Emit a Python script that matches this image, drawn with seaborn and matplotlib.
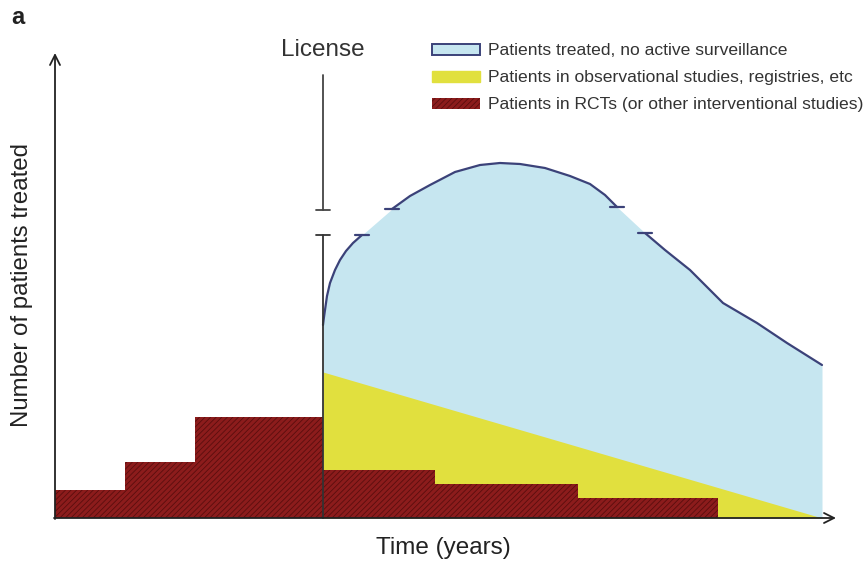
import numpy as np
import pandas as pd
import seaborn as sns
import matplotlib.pyplot as plt
from matplotlib.patches import Patch

sns.set_style("white")
plt.rcParams['font.family'] = ['Liberation Sans', 'DejaVu Sans']
plt.rcParams['hatch.color'] = "#5a0e0e"
plt.rcParams['hatch.linewidth'] = 0.6

# time axis runs 0..780 (arbitrary units), license at t=268
license_t = 268

# RCT step bars (edges and heights)
rct_edges = [0, 70, 140, 268, 380, 523, 663]
rct_heights = [28, 56, 101, 48, 34, 20]

# observational studies: straight decline from license to end
obs_t = [268, 767]
obs_h = [146, 0]

# total treated curve
curve_t = [268, 269, 270, 272, 275, 280, 285, 291, 298, 307, 322, 337, 355, 375, 400,
           425, 445, 465, 490, 515, 535, 550, 562, 590, 610, 635, 668, 702, 732, 767]
curve_h = [193, 201, 208, 222, 235, 248, 258, 267, 275, 283, 296, 309, 322, 333, 346,
           353, 355, 354, 350, 342, 334, 323, 311, 285, 268, 248, 215, 195, 175, 153]

# segments of the curve that are drawn (gaps = axis breaks)
seg_limits = [(268, 307), (337, 562), (590, 767)]

df = pd.DataFrame({"t": curve_t, "h": curve_h})

fig = plt.figure(figsize=(8.67, 5.61), dpi=100)
ax = fig.add_axes([0, 0, 1, 1])
ax.set_xlim(-55, 812)
ax.set_ylim(-43, 518)
ax.axis("off")

blue_fill = "#c6e6f0"
yellow = "#e1e03e"
red = "#8c1c1c"
navy = "#3b4279"

# blue area (total treated)
ax.fill_between(curve_t, 0, curve_h, color=blue_fill, lw=0, zorder=1)

# yellow area
ax.fill_between(obs_t, 0, obs_h, color=yellow, lw=0, zorder=2)

# RCT steps
for i, h in enumerate(rct_heights):
    ax.bar(rct_edges[i], h, width=rct_edges[i + 1] - rct_edges[i], align="edge",
           color=red, edgecolor="#5a0e0e", hatch="//////", lw=0, zorder=3)

# curve line segments
for a, b in seg_limits:
    sub = df[(df.t >= a) & (df.t <= b)]
    sns.lineplot(data=sub, x="t", y="h", ax=ax, color=navy, lw=1.6, zorder=5,
                 sort=False, estimator=None)
ax.set_xlabel(""); ax.set_ylabel("")

# break caps on the curve
for a, b in seg_limits:
    for t in (a, b):
        if t in (268, 767):
            continue
        h = df.h[df.t == t].values[0]
        ax.plot([t - 7, t + 7], [h, h], color=navy, lw=1.6, zorder=6)

# license line with break
ax.plot([license_t, license_t], [0, 283], color="#333333", lw=1.3, zorder=6)
ax.plot([license_t - 7, license_t + 7], [283, 283], color="#333333", lw=1.3, zorder=6)
ax.plot([license_t, license_t], [308, 443], color="#444444", lw=1.3, zorder=6)
ax.plot([license_t - 7, license_t + 7], [308, 308], color="#444444", lw=1.3, zorder=6)
ax.text(license_t, 468, "License", ha="center", va="center", fontsize=17.5, color="#333333")

# axes with arrows
ax.annotate("", xy=(781, 0), xytext=(-1, 0),
            arrowprops=dict(arrowstyle="->", color="#222222", lw=1.3,
                            mutation_scale=18, shrinkA=0, shrinkB=0), zorder=7)
ax.annotate("", xy=(0, 465), xytext=(0, -1),
            arrowprops=dict(arrowstyle="->", color="#222222", lw=1.3,
                            mutation_scale=18, shrinkA=0, shrinkB=0), zorder=7)

ax.text(388, -30, "Time (years)", ha="center", va="center", fontsize=17.5, color="#222222")
ax.text(-33, 233, "Number of patients treated", ha="center", va="center",
        rotation=90, fontsize=17.3, color="#222222")
ax.text(-37, 500, "a", ha="center", va="center", fontsize=17, fontweight="bold", color="#222222")

handles = [
    Patch(facecolor=blue_fill, edgecolor=navy, lw=1.4, label="Patients treated, no active surveillance"),
    Patch(facecolor=yellow, edgecolor=yellow, label="Patients in observational studies, registries, etc"),
    Patch(facecolor=red, edgecolor="#5a0e0e", hatch="//////", lw=0,
          label="Patients in RCTs (or other interventional studies)"),
]
leg = ax.legend(handles=handles, loc="upper left", bbox_to_anchor=(0.49, 0.935),
                frameon=False, fontsize=12.6, handlelength=2.75, handleheight=0.6,
                labelspacing=0.68, handletextpad=0.45, borderaxespad=0)
for t in leg.get_texts():
    t.set_color("#333333")

fig.savefig("out.png", dpi=100)
